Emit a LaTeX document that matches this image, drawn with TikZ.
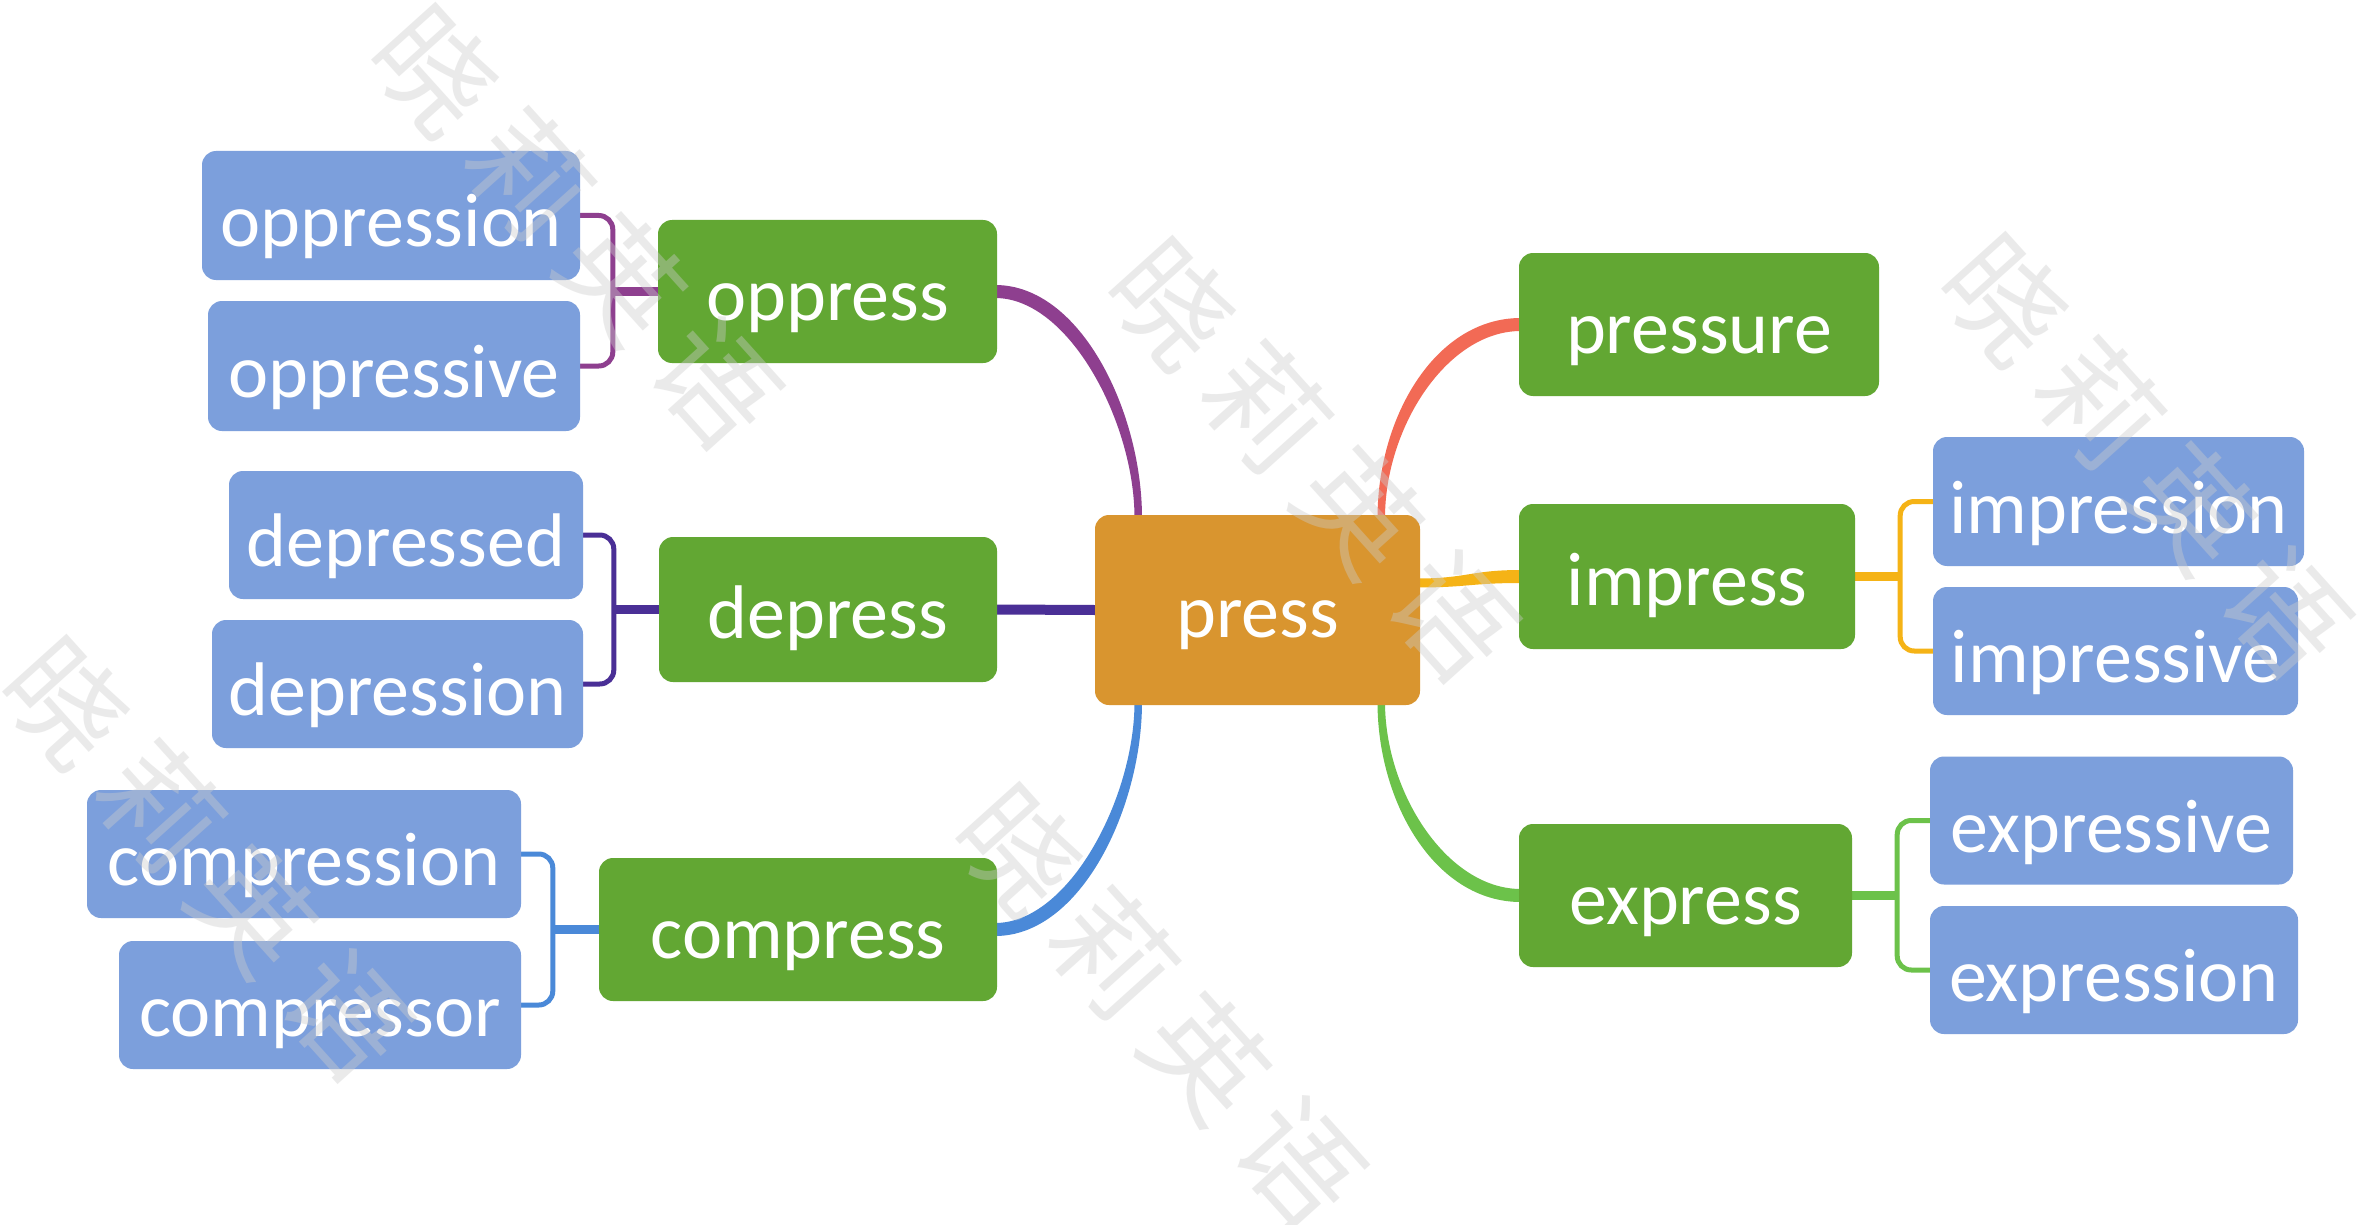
\documentclass[tikz,border=0pt]{standalone}
\usepackage{fontspec}
\setmainfont{Carlito}
\newfontfamily\cjk{Noto Sans CJK SC}
\usetikzlibrary{calc,backgrounds}
\definecolor{nodeGreen}{HTML}{62A733}
\definecolor{leafBlue}{HTML}{7C9FDC}
\definecolor{rootOrange}{HTML}{D9952F}
\definecolor{cOpp}{HTML}{8E3F8F}
\definecolor{cDep}{HTML}{4A2F96}
\definecolor{cCom}{HTML}{4A89D8}
\definecolor{cPre}{HTML}{F26A55}
\definecolor{cImp}{HTML}{F5B316}
\definecolor{cExp}{HTML}{6CC24A}
\begin{document}
\begin{tikzpicture}[x=1pt,y=-1pt,
  box/.style={rounded corners=14pt, text=white, font=\fontsize{76}{80}\selectfont,
    inner sep=0pt, text depth=0pt, align=center},
  root/.style={box, fill=rootOrange, minimum height=190pt, text height=54pt},
  branch/.style={box, fill=nodeGreen, minimum height=143pt, text height=58pt},
  leaf/.style={box, fill=leafBlue, minimum height=128pt, text height=63pt},
  stub/.style={line width=9pt},
  bracket/.style={line width=5pt, rounded corners=14pt},
  wm/.style={font=\cjk\fontsize{118}{120}\selectfont, text=black!20, opacity=0.4,
    rotate=-48, inner sep=0pt}
]
\useasboundingbox (0,0) rectangle (2361,1225);
\clip (0,0) rectangle (2361,1225);

% nodes
\node[root, minimum width=325pt] (press) at (1257.5,610) {press};
\node[branch, minimum width=339pt] (oppress) at (827.5,291.5) {oppress};
\node[branch, minimum width=338pt, minimum height=145pt] (depress) at (828,609.5) {depress};
\node[branch, minimum width=398pt] (compress) at (798,929.5) {compress};
\node[branch, minimum width=360pt] (pressure) at (1699,324.5) {pressure};
\node[branch, minimum width=336pt, minimum height=145pt] (impress) at (1687,576.5) {impress};
\node[branch, minimum width=333pt] (express) at (1685.5,895.5) {express};

\node[leaf, minimum width=378pt, minimum height=129pt] (oppression) at (391,215.5) {oppression};
\node[leaf, minimum width=372pt, minimum height=130pt] (oppressive) at (394,366) {oppressive};
\node[leaf, minimum width=354pt] (depressed) at (406,535) {depressed};
\node[leaf, minimum width=371pt] (depression) at (397.5,684) {depression};
\node[leaf, minimum width=434pt] (compression) at (304,854) {compression};
\node[leaf, minimum width=402pt] (compressor) at (320,1005) {compressor};
\node[leaf, minimum width=371pt, minimum height=129pt] (impression) at (2118.5,501.5) {impression};
\node[leaf, minimum width=365pt] (impressive) at (2115.5,651) {impressive};
\node[leaf, minimum width=363pt] (expressive) at (2111.5,820.5) {expressive};
\node[leaf, minimum width=368pt] (expression) at (2114,970) {expression};

\begin{scope}[on background layer]
\fill[white] (0,0) rectangle (2361,1225);
% main connectors (tapered: thicker at the branch end)
\fill[cOpp] ($(oppress.east)+(-2,-6.5)$) .. controls +(86,0) and +(0,-105) .. ($(press.north)+(-115.5,3)$)
  -- ($(press.north)+(-123,3)$) .. controls +(0,-95) and +(74,0) .. ($(oppress.east)+(-2,6.5)$) -- cycle;
\fill[cPre] ($(press.north)+(120,3)$) .. controls +(0,-100) and +(-86,0) .. ($(pressure.west)+(2,-6.5)$)
  -- ($(pressure.west)+(2,6.5)$) .. controls +(-74,0) and +(0,-90) .. ($(press.north)+(127.5,3)$) -- cycle;
\fill[cCom] ($(compress.east)+(-2,6.5)$) .. controls +(86,0) and +(0,105) .. ($(press.south)+(-115.5,-3)$)
  -- ($(press.south)+(-123,-3)$) .. controls +(0,95) and +(74,0) .. ($(compress.east)+(-2,-6.5)$) -- cycle;
\fill[cExp] ($(press.south)+(120,-3)$) .. controls +(0,100) and +(-86,0) .. ($(express.west)+(2,6.5)$)
  -- ($(express.west)+(2,-6.5)$) .. controls +(-74,0) and +(0,90) .. ($(press.south)+(127.5,-3)$) -- cycle;
\fill[cImp] ($(press.east)+(-3,-31.5)$) .. controls +(50,0) and +(-50,0) .. ($(impress.west)+(2,-6.5)$)
  -- ($(impress.west)+(2,6.5)$) .. controls +(-50,0) and +(50,0) .. ($(press.east)+(-3,-22.5)$) -- cycle;
\draw[cDep, line width=10pt] (depress.east) -- (press.west);

% brackets
\coordinate (oppJ) at ($(oppress.west)+(-45,0)$);
\coordinate (depJ) at ($(depress.west)+(-45,0)$);
\coordinate (comJ) at ($(compress.west)+(-46,0)$);
\coordinate (impJ) at ($(impress.east)+(45,0)$);
\coordinate (expJ) at ($(express.east)+(45,0)$);
\draw[cOpp, stub] (oppress.west) -- (oppJ);
\draw[cOpp, bracket] (oppression.east) -| (oppJ) |- (oppressive.east);
\draw[cDep, stub] (depress.west) -- (depJ);
\draw[cDep, bracket] (depressed.east) -| (depJ) |- (depression.east);
\draw[cCom, stub] (compress.west) -- (comJ);
\draw[cCom, bracket] (compression.east) -| (comJ) |- (compressor.east);
\draw[cImp, stub] (impress.east) -- (impJ);
\draw[cImp, bracket] (impression.west) -| (impJ) |- (impressive.west);
\draw[cExp, stub] (express.east) -- (expJ);
\draw[cExp, bracket] (expressive.west) -| (expJ) |- (expression.west);
\end{scope}

% watermark
\node[wm] (wm1) at (576,226) {晓\hspace{22pt}莉\hspace{22pt}英\hspace{22pt}语};
\node[wm] (wm2) at (1313,459) {晓\hspace{22pt}莉\hspace{22pt}英\hspace{22pt}语};
\node[wm] (wm3) at (2146,455) {晓\hspace{22pt}莉\hspace{22pt}英\hspace{22pt}语};
\node[wm] (wm4) at (207,858) {晓\hspace{22pt}莉\hspace{22pt}英\hspace{22pt}语};
\node[wm] (wm5) at (1160,1005) {晓\hspace{22pt}莉\hspace{22pt}英\hspace{22pt}语};
\end{tikzpicture}
\end{document}
